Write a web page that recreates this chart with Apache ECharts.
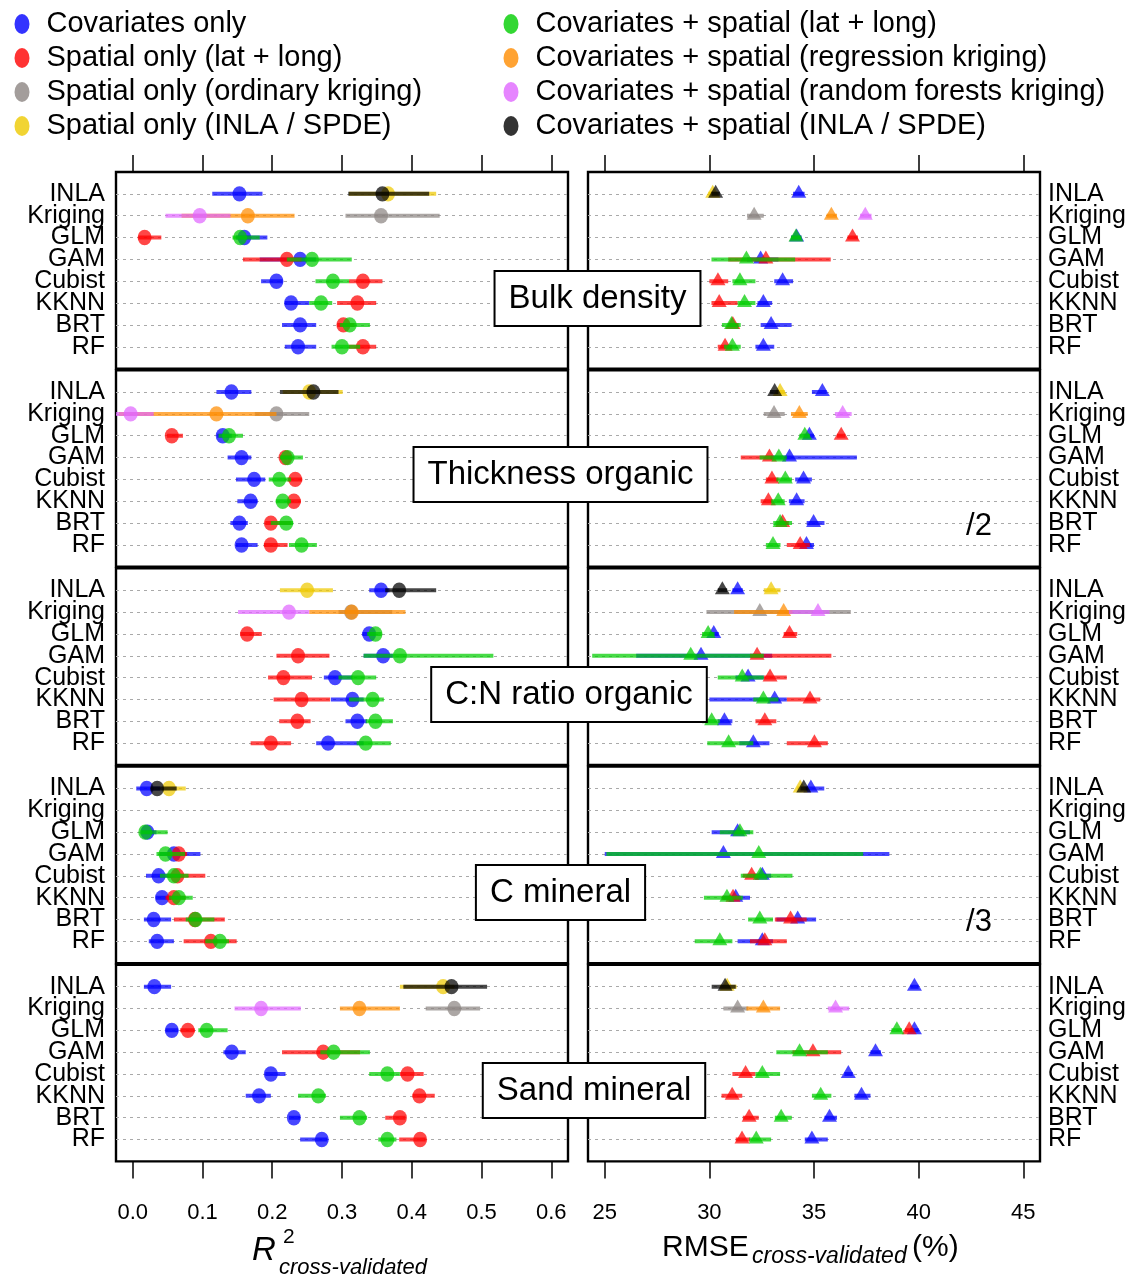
<!DOCTYPE html>
<html><head><meta charset="utf-8">
<script src="https://cdn.jsdelivr.net/npm/echarts@6/dist/echarts.min.js"></script>
<style>html,body{margin:0;padding:0;background:#fff}#c{width:1135px;height:1279px}</style>
</head><body><div id="c"></div>
<script>
// ---------- DATA ----------
const categories = ['INLA','Kriging','GLM','GAM','Cubist','KKNN','BRT','RF'];
const groupNames = [
  'Covariates only',
  'Spatial only (lat + long)',
  'Spatial only (ordinary kriging)',
  'Spatial only (INLA / SPDE)',
  'Covariates + spatial (lat + long)',
  'Covariates + spatial (regression kriging)',
  'Covariates + spatial (random forests kriging)',
  'Covariates + spatial (INLA / SPDE)'
];
const panelNames = ['Bulk density','Thickness organic','C:N ratio organic','C mineral','Sand mineral'];
const rmseScaleNotes = ['', '/2', '', '/3', ''];
const r2Ticks = [0, 0.1, 0.2, 0.3, 0.4, 0.5, 0.6];
const r2TickLabels = ['0.0','0.1','0.2','0.3','0.4','0.5','0.6'];
const rmseTicks = [25, 30, 35, 40, 45];
const rmseTickLabels = ['25','30','35','40','45'];

// rows: [category, group index, value, lower, upper]
const bulkDensityR2 = [
  ['INLA',0,0.153,0.114,0.186],['INLA',3,0.366,0.310,0.435],['INLA',7,0.358,0.309,0.425],
  ['Kriging',2,0.356,0.305,0.440],['Kriging',5,0.165,0.070,0.232],['Kriging',6,0.096,0.047,0.140],
  ['GLM',0,0.160,0.148,0.193],['GLM',1,0.017,0.008,0.041],['GLM',4,0.154,0.143,0.182],
  ['GAM',0,0.240,0.182,0.263],['GAM',1,0.221,0.158,0.242],['GAM',4,0.257,0.221,0.314],
  ['Cubist',0,0.206,0.184,0.215],['Cubist',1,0.330,0.310,0.358],['Cubist',4,0.287,0.262,0.310],
  ['KKNN',0,0.227,0.218,0.253],['KKNN',1,0.322,0.293,0.349],['KKNN',4,0.270,0.253,0.286],
  ['BRT',0,0.240,0.214,0.263],['BRT',1,0.302,0.293,0.318],['BRT',4,0.311,0.297,0.340],
  ['RF',0,0.237,0.218,0.263],['RF',1,0.330,0.310,0.349],['RF',4,0.300,0.285,0.326]
];
const bulkDensityRmse = [
  ['INLA',0,34.27,34.0,34.55],['INLA',3,30.16,29.95,30.4],['INLA',7,30.3,30.1,30.5],
  ['Kriging',2,32.14,31.8,32.6],['Kriging',5,35.83,35.6,36.1],['Kriging',6,37.45,37.2,37.75],
  ['GLM',0,34.17,33.9,34.4],['GLM',1,36.84,36.6,37.1],['GLM',4,34.14,33.9,34.4],
  ['GAM',0,32.45,31.8,33.3],['GAM',1,32.7,30.9,35.8],['GAM',4,31.77,30.1,34.1],
  ['Cubist',0,33.5,33.1,34.0],['Cubist',1,30.41,30.0,30.9],['Cubist',4,31.46,31.1,32.2],
  ['KKNN',0,32.58,32.3,33.0],['KKNN',1,30.47,30.1,31.35],['KKNN',4,31.68,31.35,32.2],
  ['BRT',0,32.95,32.45,33.93],['BRT',1,31.12,30.9,31.4],['BRT',4,31.06,30.6,31.5],
  ['RF',0,32.58,32.2,33.1],['RF',1,30.75,30.4,31.1],['RF',4,31.1,30.7,31.5]
];
const thicknessOrganicR2 = [
  ['INLA',0,0.1415,0.12,0.17],['INLA',3,0.253,0.215,0.301],['INLA',7,0.259,0.211,0.295],
  ['Kriging',2,0.206,0.175,0.253],['Kriging',5,0.12,-0.02,0.206],['Kriging',6,-0.003,-0.024,0.03],
  ['GLM',0,0.129,0.121,0.142],['GLM',1,0.056,0.049,0.072],['GLM',4,0.138,0.123,0.158],
  ['GAM',0,0.156,0.136,0.17],['GAM',1,0.219,0.211,0.227],['GAM',4,0.222,0.211,0.244],
  ['Cubist',0,0.174,0.148,0.19],['Cubist',1,0.233,0.222,0.243],['Cubist',4,0.21,0.195,0.227],
  ['KKNN',0,0.169,0.15,0.179],['KKNN',1,0.231,0.222,0.241],['KKNN',4,0.215,0.205,0.227],
  ['BRT',0,0.153,0.14,0.165],['BRT',1,0.198,0.19,0.227],['BRT',4,0.22,0.198,0.23],
  ['RF',0,0.156,0.148,0.179],['RF',1,0.198,0.188,0.222],['RF',4,0.242,0.224,0.264]
];
const thicknessOrganicRmse = [
  ['INLA',0,35.4,34.9,35.6],['INLA',3,33.38,33.2,33.6],['INLA',7,33.12,32.9,33.3],
  ['Kriging',2,33.09,32.6,33.6],['Kriging',5,34.3,33.9,34.7],['Kriging',6,36.37,36.0,36.8],
  ['GLM',0,34.78,34.5,35.0],['GLM',1,36.3,36.1,36.5],['GLM',4,34.56,34.3,34.8],
  ['GAM',0,33.83,32.95,37.05],['GAM',1,32.87,31.5,33.0],['GAM',4,33.32,32.4,33.7],
  ['Cubist',0,34.5,34.1,34.9],['Cubist',1,32.99,32.7,33.3],['Cubist',4,33.63,33.2,33.95],
  ['KKNN',0,34.17,33.8,34.55],['KKNN',1,32.82,32.45,33.0],['KKNN',4,33.29,32.95,33.6],
  ['BRT',0,34.98,34.65,35.5],['BRT',1,33.5,33.2,33.8],['BRT',4,33.38,33.05,33.95],
  ['RF',0,34.64,34.2,35.0],['RF',1,34.34,33.7,34.8],['RF',4,33.04,32.7,33.4]
];
const cnRatioOrganicR2 = [
  ['INLA',0,0.356,0.339,0.368],['INLA',3,0.25,0.211,0.287],['INLA',7,0.382,0.362,0.435],
  ['Kriging',2,0.313,0.295,0.372],['Kriging',5,0.314,0.253,0.391],['Kriging',6,0.224,0.151,0.253],
  ['GLM',0,0.339,0.329,0.347],['GLM',1,0.164,0.154,0.185],['GLM',4,0.348,0.336,0.357],
  ['GAM',0,0.359,0.331,0.373],['GAM',1,0.237,0.206,0.282],['GAM',4,0.383,0.331,0.517],
  ['Cubist',0,0.29,0.274,0.315],['Cubist',1,0.216,0.194,0.257],['Cubist',4,0.323,0.295,0.349],
  ['KKNN',0,0.315,0.284,0.331],['KKNN',1,0.242,0.202,0.283],['KKNN',4,0.344,0.31,0.36],
  ['BRT',0,0.322,0.305,0.336],['BRT',1,0.236,0.21,0.255],['BRT',4,0.348,0.334,0.373],
  ['RF',0,0.28,0.263,0.331],['RF',1,0.198,0.169,0.227],['RF',4,0.334,0.321,0.37]
];
const cnRatioOrganicRmse = [
  ['INLA',0,31.35,31.1,31.6],['INLA',3,32.95,32.6,33.4],['INLA',7,30.62,30.4,30.85],
  ['Kriging',2,32.41,29.86,36.76],['Kriging',5,33.55,31.18,33.97],['Kriging',6,35.19,33.8,35.74],
  ['GLM',0,30.21,30.0,30.45],['GLM',1,33.83,33.55,34.2],['GLM',4,29.94,29.65,30.25],
  ['GAM',0,29.6,26.5,33.0],['GAM',1,32.28,31.94,35.83],['GAM',4,29.11,24.4,32.6],
  ['Cubist',0,31.85,31.25,32.6],['Cubist',1,32.9,32.6,33.7],['Cubist',4,31.57,30.4,32.6],
  ['KKNN',0,33.12,30.0,33.7],['KKNN',1,34.81,33.7,35.3],['KKNN',4,32.58,32.1,33.3],
  ['BRT',0,30.72,30.4,31.1],['BRT',1,32.65,32.2,33.2],['BRT',4,30.11,29.65,30.5],
  ['RF',0,32.1,31.43,32.87],['RF',1,35.02,33.7,35.66],['RF',4,30.92,29.9,32.1]
];
const cMineralR2 = [
  ['INLA',0,0.02,0.005,0.039],['INLA',3,0.052,0.042,0.076],['INLA',7,0.035,0.026,0.063],
  ['GLM',0,0.021,0.013,0.034],['GLM',4,0.018,0.011,0.05],
  ['GAM',0,0.059,0.039,0.097],['GAM',1,0.066,0.05,0.078],['GAM',4,0.047,0.034,0.075],
  ['Cubist',0,0.037,0.019,0.055],['Cubist',1,0.064,0.05,0.104],['Cubist',4,0.059,0.039,0.08],
  ['KKNN',0,0.042,0.033,0.055],['KKNN',1,0.059,0.047,0.076],['KKNN',4,0.066,0.052,0.086],
  ['BRT',0,0.03,0.016,0.055],['BRT',1,0.089,0.059,0.132],['BRT',4,0.09,0.076,0.117],
  ['RF',0,0.035,0.023,0.059],['RF',1,0.112,0.073,0.149],['RF',4,0.125,0.104,0.138]
];
const cMineralRmse = [
  ['INLA',0,34.85,34.5,35.49],['INLA',3,34.34,34.2,34.6],['INLA',7,34.51,34.35,34.7],
  ['GLM',0,31.35,30.11,31.94],['GLM',4,31.46,30.5,32.1],
  ['GAM',0,30.67,25.0,38.6],['GAM',4,32.36,25.08,37.35],
  ['Cubist',0,32.53,32.1,32.95],['Cubist',1,32.02,31.6,32.4],['Cubist',4,32.44,31.5,33.97],
  ['KKNN',0,31.26,30.67,31.94],['KKNN',1,31.13,30.6,31.5],['KKNN',4,30.84,29.74,31.6],
  ['BRT',0,34.22,33.2,35.1],['BRT',1,33.88,33.13,34.65],['BRT',4,32.41,31.85,33.04],
  ['RF',0,32.53,31.35,33.04],['RF',1,32.65,31.94,33.7],['RF',4,30.5,29.3,31.1]
];
const sandMineralR2 = [
  ['INLA',0,0.031,0.016,0.055],['INLA',3,0.445,0.383,0.461],['INLA',7,0.457,0.388,0.508],
  ['Kriging',2,0.461,0.42,0.498],['Kriging',5,0.325,0.297,0.383],['Kriging',6,0.184,0.146,0.241],
  ['GLM',0,0.056,0.047,0.065],['GLM',1,0.079,0.068,0.089],['GLM',4,0.106,0.094,0.136],
  ['GAM',0,0.142,0.13,0.162],['GAM',1,0.273,0.214,0.326],['GAM',4,0.288,0.269,0.34],
  ['Cubist',0,0.198,0.19,0.219],['Cubist',1,0.394,0.383,0.417],['Cubist',4,0.365,0.339,0.383],
  ['KKNN',0,0.181,0.162,0.198],['KKNN',1,0.411,0.401,0.433],['KKNN',4,0.266,0.237,0.277],
  ['BRT',0,0.231,0.224,0.24],['BRT',1,0.383,0.362,0.391],['BRT',4,0.325,0.297,0.336],
  ['RF',0,0.271,0.24,0.279],['RF',1,0.412,0.382,0.42],['RF',4,0.365,0.352,0.378]
];
const sandMineralRmse = [
  ['INLA',0,39.8,39.6,40.0],['INLA',3,30.85,30.5,31.3],['INLA',7,30.75,30.11,31.26],
  ['Kriging',2,31.35,30.67,31.86],['Kriging',5,32.58,31.77,33.38],['Kriging',6,36.03,35.66,36.68],
  ['GLM',0,39.8,39.6,40.0],['GLM',1,39.55,39.35,39.75],['GLM',4,38.96,38.7,39.2],
  ['GAM',0,37.94,37.7,38.2],['GAM',1,34.95,33.97,36.3],['GAM',4,34.31,33.2,35.66],
  ['Cubist',0,36.64,36.45,36.85],['Cubist',1,31.73,31.1,32.2],['Cubist',4,32.53,32.2,33.38],
  ['KKNN',0,37.27,36.93,37.7],['KKNN',1,31.09,30.58,31.57],['KKNN',4,35.32,34.9,35.83],
  ['BRT',0,35.74,35.5,36.1],['BRT',1,31.9,31.6,32.36],['BRT',4,33.43,33.13,33.94],
  ['RF',0,34.9,34.56,35.66],['RF',1,31.56,31.26,31.94],['RF',4,32.24,31.9,32.95]
];
const panelsR2 = [bulkDensityR2, thicknessOrganicR2, cnRatioOrganicR2, cMineralR2, sandMineralR2];
const panelsRmse = [bulkDensityRmse, thicknessOrganicRmse, cnRatioOrganicRmse, cMineralRmse, sandMineralRmse];

// ---------- STYLE ----------
const FONT = "'Liberation Sans', Arial, sans-serif";
const colors = ['#0000FF','#FF0000','#8C8582','#EEC900','#00CD00','#FF8C00','#E066FF','#000000'];
const ALPHA = 0.72;

function renderCircle(params, api) {
  const y = api.value(0), g = api.value(1);
  const p = api.coord([api.value(2), y]);
  const a = api.coord([api.value(3), y]);
  const b = api.coord([api.value(4), y]);
  return { type: 'group', children: [
    { type: 'line', shape: { x1: a[0], y1: a[1], x2: b[0], y2: b[1] },
      style: { stroke: colors[g], lineWidth: 4, opacity: ALPHA } },
    { type: 'circle', x: p[0], y: p[1], scaleY: 1.1, shape: { cx: 0, cy: 0, r: 7 },
      style: { fill: colors[g], opacity: ALPHA } }
  ]};
}
function renderTriangle(params, api) {
  const y = api.value(0), g = api.value(1);
  const p = api.coord([api.value(2), y]);
  const a = api.coord([api.value(3), y]);
  const b = api.coord([api.value(4), y]);
  return { type: 'group', children: [
    { type: 'line', shape: { x1: a[0], y1: a[1], x2: b[0], y2: b[1] },
      style: { stroke: colors[g], lineWidth: 4, opacity: ALPHA } },
    { type: 'polygon', shape: { points: [[p[0], p[1] - 9], [p[0] - 7.5, p[1] + 4], [p[0] + 7.5, p[1] + 4]] },
      style: { fill: colors[g], opacity: ALPHA } }
  ]};
}

const ROW_TOP = 172, ROW_STEP = 198.2, ROW_H = 196.6;
const grids = [], xAxes = [], yAxes = [], series = [];
for (let r = 0; r < 5; r++) {
  for (let c = 0; c < 2; c++) {
    const gi = grids.length;
    const isR2 = c === 0;
    grids.push({ left: isR2 ? 116 : 588, width: 452, top: ROW_TOP + r * ROW_STEP, height: ROW_H,
      show: true, borderColor: '#000', borderWidth: 2.4, backgroundColor: 'transparent' });
    const ticks = isR2 ? r2Ticks : rmseTicks;
    const tickLabels = isR2 ? r2TickLabels : rmseTickLabels;
    xAxes.push({
      gridIndex: gi, type: 'value',
      min: isR2 ? -0.024 : 24.2, max: isR2 ? 0.624 : 45.8,
      position: r === 0 ? 'top' : 'bottom',
      show: r === 0 || r === 4,
      axisLine: { show: false, onZero: false },
      axisTick: { show: true, inside: false, length: 17, customValues: ticks, lineStyle: { color: '#000', width: 1.5 } },
      axisLabel: { show: r === 4, customValues: ticks, margin: 41, fontSize: 22, color: '#000', fontFamily: FONT,
        formatter: v => tickLabels[ticks.findIndex(t => Math.abs(t - v) < 1e-9)] || '' },
      splitLine: { show: false }
    });
    yAxes.push({
      gridIndex: gi, type: 'value', min: -1, max: 8, interval: 1, inverse: true,
      position: isR2 ? 'left' : 'right',
      axisLine: { show: false, onZero: false }, axisTick: { show: false },
      axisLabel: { show: true, showMinLabel: false, showMaxLabel: false,
        formatter: v => categories[v] || '', fontSize: 25, color: '#000', fontFamily: FONT,
        margin: isR2 ? 11 : 8, align: isR2 ? 'right' : 'left', padding: [0, 0, 12, 0] },
      splitLine: { show: true, showMinLine: false, showMaxLine: false,
        lineStyle: { type: [3, 4], color: '#a9a9a9', width: 1.2 } }
    });
    const rows = (isR2 ? panelsR2[r] : panelsRmse[r]).slice().sort((p, q) => p[1] - q[1]);
    series.push({
      type: 'custom', xAxisIndex: gi, yAxisIndex: gi, clip: true, silent: true,
      renderItem: isR2 ? renderCircle : renderTriangle,
      encode: { x: [2, 3, 4], y: 0 },
      data: rows.map(d => [categories.indexOf(d[0]), d[1], d[2], d[3], d[4]])
    });
  }
}
// legend entries
groupNames.forEach((n, i) => series.push({ type: 'scatter', name: n, data: [], xAxisIndex: 0, yAxisIndex: 0, itemStyle: { color: colors[i] } }));

const ellipseIcon = 'path://M50,0A50,50 0 1,1 50,100A50,50 0 1,1 50,0Z';
const legendBase = { orient: 'vertical', top: 7, itemWidth: 15, itemHeight: 20, itemGap: 0, itemTextGap: 5,
  padding: 0, icon: ellipseIcon, symbolKeepAspect: false, selectedMode: false,
  textStyle: { fontSize: 29, lineHeight: 34, color: '#000', fontFamily: FONT, padding: [0, 0, 0, 12] } };

const boxPos = [[597.5, 298.5], [560.5, 474.5], [569, 694.5], [560.5, 892.5], [594, 1090.5]];
const graphics = [];
panelNames.forEach((t, i) => graphics.push({ type: 'text', x: boxPos[i][0], y: boxPos[i][1], z: 100,
  style: { text: t, fontSize: 33, fontFamily: FONT, fill: '#000', align: 'center', verticalAlign: 'middle',
    backgroundColor: '#fff', borderColor: '#000', borderWidth: 2, padding: [10, 13] } }));
rmseScaleNotes.forEach((t, i) => { if (t) graphics.push({ type: 'text', x: 979, y: 526 + (i === 3 ? 396 : 0), z: 100,
  style: { text: t, fontSize: 31, fontFamily: FONT, fill: '#000', align: 'center', verticalAlign: 'middle' } }); });
graphics.push(
  { type: 'text', x: 252, y: 1251, style: { text: 'R', fontSize: 33, fontStyle: 'italic', fontFamily: FONT, fill: '#000', verticalAlign: 'middle' } },
  { type: 'text', x: 283, y: 1237, style: { text: '2', fontSize: 21, fontFamily: FONT, fill: '#000', verticalAlign: 'middle' } },
  { type: 'text', x: 279, y: 1268, style: { text: 'cross-validated', fontSize: 22, fontStyle: 'italic', fontFamily: FONT, fill: '#000', verticalAlign: 'middle' } },
  { type: 'text', x: 662, y: 1248, style: { text: 'RMSE', fontSize: 30, fontFamily: FONT, fill: '#000', verticalAlign: 'middle' } },
  { type: 'text', x: 752, y: 1257, style: { text: 'cross-validated', fontSize: 23, fontStyle: 'italic', fontFamily: FONT, fill: '#000', verticalAlign: 'middle' } },
  { type: 'text', x: 912, y: 1248, style: { text: '(%)', fontSize: 30, fontFamily: FONT, fill: '#000', verticalAlign: 'middle' } }
);

const chart = echarts.init(document.getElementById('c'));
chart.setOption({
  animation: false,
  backgroundColor: '#fff',
  textStyle: { fontFamily: FONT },
  legend: [
    Object.assign({}, legendBase, { left: 14.5, data: groupNames.slice(0, 4) }),
    Object.assign({}, legendBase, { left: 503.5, data: groupNames.slice(4) })
  ],
  grid: grids, xAxis: xAxes, yAxis: yAxes, series: series, graphic: graphics
});
</script></body></html>
